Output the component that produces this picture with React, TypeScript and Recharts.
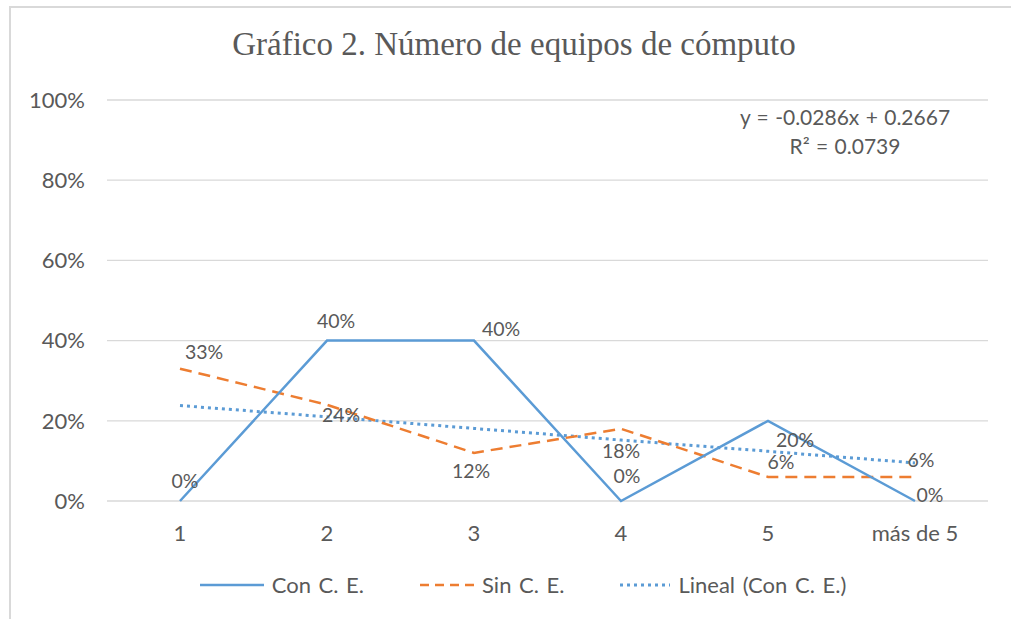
import { CartesianGrid, LabelList, Line, LineChart, XAxis, YAxis } from "recharts";

const categories = ["1", "2", "3", "4", "5", "más de 5"];
const conCE = [0, 0.4, 0.4, 0, 0.2, 0];
const sinCE = [0.33, 0.24, 0.12, 0.18, 0.06, 0.06];
// linear trend of "Con C. E."
const linealCE = [0.238, 0.21, 0.181, 0.152, 0.124, 0.095];
const yTicks = [0, 0.2, 0.4, 0.6, 0.8, 1];

const BLUE = "#5b9bd5";
const ORANGE = "#ed7d31";
const TEXT = "#595959";
const GRID = "#d9d9d9";
const FONT = "Lato, 'Noto Sans', sans-serif";

// label offsets from each point (manual placement, like the original)
const conOffsets = [
  [5, -21],
  [9, -20],
  [27, -12],
  [6, -26],
  [27, 19],
  [15, -7],
];
const sinOffsets = [
  [24, -17],
  [14, 10],
  [-3, 18],
  [0, 22],
  [13, -15],
  [6, -17],
];

const data = categories.map((c, i) => ({
  cat: c,
  con: conCE[i],
  sin: sinCE[i],
  lineal: linealCE[i],
}));

const pct = (v: number) => `${Math.round(v * 100)}%`;

const makeLabel = (offsets: number[][]) => (props: any) => {
  const { x, y, value, index } = props;
  const [dx, dy] = offsets[index] ?? [0, -15];
  return (
    <text
      x={x + dx}
      y={y + dy}
      textAnchor="middle"
      dominantBaseline="central"
      fontSize={19.5}
      fontFamily={FONT}
      fill={TEXT}
    >
      {pct(value)}
    </text>
  );
};

const legendItems = [
  { name: "Con C. E.", color: BLUE, dash: undefined as string | undefined, len: 64 },
  { name: "Sin C. E.", color: ORANGE, dash: "9 6", len: 54 },
  { name: "Lineal (Con C. E.)", color: BLUE, dash: "3 4", len: 50 },
];

export default function App() {
  return (
    <div
      style={{
        position: "fixed",
        left: 0,
        top: 0,
        width: 1011,
        height: 619,
        background: "#fff",
        overflow: "hidden",
      }}
    >
      <div
        style={{
          position: "absolute",
          left: 9,
          top: 6,
          right: 0,
          bottom: 0,
          borderLeft: `2px solid ${GRID}`,
          borderTop: `2px solid ${GRID}`,
        }}
      />
      <div
        style={{
          position: "absolute",
          left: 0,
          width: 1028,
          top: 26,
          textAlign: "center",
          fontFamily: "'Liberation Serif', 'Times New Roman', serif",
          fontSize: 33,
          color: TEXT,
          whiteSpace: "nowrap",
        }}
      >
        Gráfico 2. Número de equipos de cómputo
      </div>
      <div style={{ position: "absolute", left: 0, top: 0 }}>
        <LineChart
          width={1011}
          height={619}
          data={data}
          margin={{ top: 100, right: 23, bottom: 0, left: 0 }}
        >
          <CartesianGrid horizontal vertical={false} stroke={GRID} strokeWidth={1.3} />
          <XAxis
            dataKey="cat"
            axisLine={false}
            tickLine={false}
            tickMargin={18}
            height={118}
            padding={{ left: 73, right: 73 }}
            tick={{ fill: TEXT, fontSize: 22, fontFamily: FONT }}
            interval={0}
          />
          <YAxis
            domain={[0, 1]}
            ticks={yTicks}
            tickFormatter={pct}
            axisLine={false}
            tickLine={false}
            width={107}
            tickMargin={16}
            tick={{ fill: TEXT, fontSize: 22, fontFamily: FONT }}
          />
          <Line
            dataKey="lineal"
            stroke={BLUE}
            strokeWidth={3}
            strokeDasharray="3 4"
            dot={false}
            activeDot={false}
            isAnimationActive={false}
          />
          <Line
            dataKey="sin"
            stroke={ORANGE}
            strokeWidth={2.5}
            strokeDasharray="12 7"
            dot={false}
            activeDot={false}
            isAnimationActive={false}
          >
            <LabelList dataKey="sin" content={makeLabel(sinOffsets)} />
          </Line>
          <Line
            dataKey="con"
            stroke={BLUE}
            strokeWidth={2.5}
            dot={false}
            activeDot={false}
            isAnimationActive={false}
          >
            <LabelList dataKey="con" content={makeLabel(conOffsets)} />
          </Line>
        </LineChart>
      </div>
      <div
        style={{
          position: "absolute",
          left: 825,
          width: 40,
          top: 102,
          display: "flex",
          flexDirection: "column",
          alignItems: "center",
          fontFamily: FONT,
          fontSize: 21,
          wordSpacing: 1,
          color: TEXT,
          whiteSpace: "nowrap",
          lineHeight: "29px",
        }}
      >
        <div>y = -0.0286x + 0.2667</div>
        <div>R² = 0.0739</div>
      </div>
      <div
        style={{
          position: "absolute",
          left: 0,
          width: 1046,
          top: 571,
          display: "flex",
          justifyContent: "center",
          gap: 56,
          fontFamily: FONT,
          fontSize: 22,
          wordSpacing: 2,
          color: TEXT,
          whiteSpace: "nowrap",
        }}
      >
        {legendItems.map((it) => (
          <div key={it.name} style={{ display: "flex", alignItems: "center", gap: 8 }}>
            <svg width={it.len} height={12}>
              <line
                x1={0}
                y1={6}
                x2={it.len}
                y2={6}
                stroke={it.color}
                strokeWidth={it.dash === "3 4" ? 3 : 2.5}
                strokeDasharray={it.dash}
              />
            </svg>
            <span>{it.name}</span>
          </div>
        ))}
      </div>
    </div>
  );
}
